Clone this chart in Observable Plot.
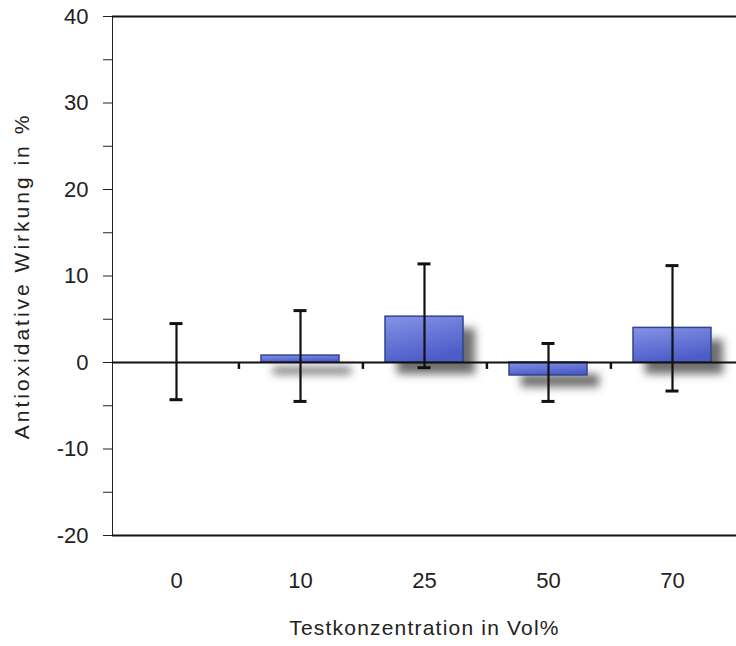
<!DOCTYPE html>
<html>
<head>
<meta charset="utf-8">
<script src="https://cdn.jsdelivr.net/npm/d3@7"></script>
<script src="https://cdn.jsdelivr.net/npm/@observablehq/plot@0.6"></script>
<style>
  html, body { margin: 0; padding: 0; background: #fff; }
</style>
</head>
<body>
<div id="chart"></div>
<script>
const categories = ["0", "10", "25", "50", "70"];
const means = [0, 0.8, 5.3, -1.5, 4.0];
const errHigh = [4.5, 6.0, 11.4, 2.2, 11.2];
const errLow = [-4.3, -4.5, -0.6, -4.5, -3.3];
const yTicks = [-20, -15, -10, -5, 0, 5, 10, 15, 20, 25, 30, 35, 40];
const yLabel = "Antioxidative Wirkung in %";
const xLabel = "Testkonzentration in Vol%";

const data = categories.map((c, i) => ({cat: c, mean: means[i], hi: errHigh[i], lo: errLow[i]}));
const boundaries = categories.slice(0, -1);

const W = 736, H = 646, mL = 112, mR = 0, mT = 16, mB = 111;
const step = (W - mL - mR) / categories.length;
const padInner = 0.375;
const barW = step * (1 - padInner);
const capW = 13;

const chart = Plot.plot({
  width: W,
  height: H,
  marginLeft: mL,
  marginRight: mR,
  marginTop: mT,
  marginBottom: mB,
  style: {fontFamily: "'Liberation Sans', Arial, sans-serif", fontSize: "22px", color: "#222", background: "#fff"},
  x: {domain: categories, paddingInner: padInner, paddingOuter: padInner / 2, tickSize: 0, tickPadding: 37, label: null},
  y: {domain: [-20, 40], ticks: yTicks, tickFormat: d => d % 10 === 0 ? String(d) : "", tickSize: 9, tickPadding: 15, label: null, line: true},
  marks: [
    Plot.barY(data, {x: "cat", y: "mean", fill: "#4a4a4a", fillOpacity: 0.8, dx: 12, dy: 12}),
    Plot.barY(data, {x: "cat", y: "mean", fill: "#5b6bd3", stroke: "#34428f", strokeWidth: 1.5}),
    Plot.ruleY([0], {stroke: "#111", strokeWidth: 2.2}),
    Plot.ruleY([40, -20], {stroke: "#111", strokeWidth: 2.2}),
    Plot.ruleX(boundaries, {x: d => d, y1: 0, y2: -0.8, dx: step / 2, stroke: "#111", strokeWidth: 2.5}),
    Plot.ruleX(data, {x: "cat", y1: "lo", y2: "hi", stroke: "#111", strokeWidth: 2.2}),
    Plot.tickY(data, {x: "cat", y: "hi", insetLeft: (barW - capW) / 2, insetRight: (barW - capW) / 2, stroke: "#111", strokeWidth: 3}),
    Plot.tickY(data, {x: "cat", y: "lo", insetLeft: (barW - capW) / 2, insetRight: (barW - capW) / 2, stroke: "#111", strokeWidth: 3}),
    Plot.text([xLabel], {frameAnchor: "bottom", text: d => d, dy: 93, lineAnchor: "middle", textAnchor: "middle", fontSize: 21, fill: "#222"}),
    Plot.text([yLabel], {frameAnchor: "left", text: d => d, dx: -90, rotate: -90, lineAnchor: "middle", textAnchor: "middle", fontSize: 21, fill: "#222"})
  ]
});

// gradient fill and soft shadow
const ns = "http://www.w3.org/2000/svg";
const defs = document.createElementNS(ns, "defs");
defs.innerHTML = `
  <linearGradient id="barGrad" x1="0" y1="0" x2="0.35" y2="1">
    <stop offset="0%" stop-color="#8593e7"/>
    <stop offset="100%" stop-color="#4d5dc8"/>
  </linearGradient>
  <filter id="soft" x="-30%" y="-60%" width="160%" height="220%">
    <feGaussianBlur stdDeviation="4"/>
  </filter>`;
chart.insertBefore(defs, chart.firstChild);
const barGroups = chart.querySelectorAll('g[aria-label="bar"]');
if (barGroups.length >= 2) {
  barGroups[0].setAttribute("filter", "url(#soft)");
  barGroups[1].setAttribute("fill", "url(#barGrad)");
  barGroups[1].querySelectorAll("rect").forEach(r => r.setAttribute("fill", "url(#barGrad)"));
}
const textGroups = chart.querySelectorAll('g[aria-label="text"]');
if (textGroups.length >= 2) {
  textGroups[0].querySelectorAll("text").forEach(t => t.style.letterSpacing = "1.2px");
  textGroups[1].querySelectorAll("text").forEach(t => t.style.letterSpacing = "3px");
}

document.getElementById("chart").appendChild(chart);
</script>
</body>
</html>
